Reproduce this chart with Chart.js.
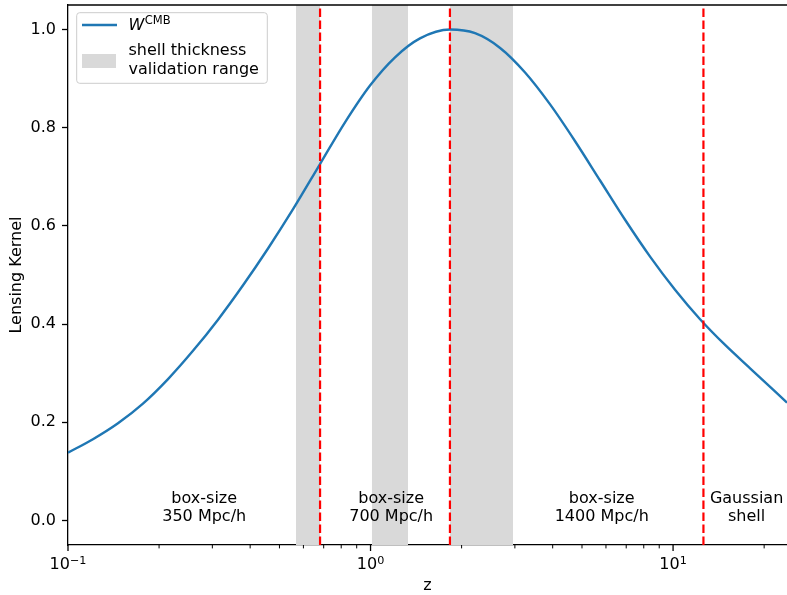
<!DOCTYPE html>
<html>
<head>
<meta charset="utf-8">
<script src="https://cdn.jsdelivr.net/npm/chart.js@4"></script>
<style>
  body { margin: 0; background: #fff; }
  canvas { display: block; }
</style>
</head>
<body>
<canvas id="kernel" width="787" height="595"></canvas>
<script>
// redshift samples and the normalised CMB lensing kernel
const zSamples = [0.1, 0.1209, 0.1463, 0.1769, 0.2141, 0.2589, 0.3132, 0.3789, 0.4583, 0.5544, 0.6808, 0.8234, 0.9962, 1.205, 1.457, 1.832, 2.215, 2.681, 3.242, 3.922, 4.744, 5.738, 6.939, 8.394, 10.15, 12.28, 14.86, 17.97, 23.8];
const kernelValues = [0.138, 0.1655, 0.198, 0.238, 0.288, 0.3455, 0.409, 0.479, 0.554, 0.634, 0.726, 0.811, 0.886, 0.9435, 0.982, 1.0, 0.9925, 0.9625, 0.9125, 0.8475, 0.7725, 0.6925, 0.6125, 0.5375, 0.470, 0.410, 0.3575, 0.310, 0.240];

// shell thickness validation ranges in z
const bandStart = [0.567, 1.01, 1.83];
const bandEnd = [0.681, 1.33, 2.96];

// where the simulation box size changes
const boxEdges = [0.681, 1.83, 12.6];
const regionZ = [0.282, 1.17, 5.81, 17.5];
const regionText = [['box-size', '350 Mpc/h'], ['box-size', '700 Mpc/h'], ['box-size', '1400 Mpc/h'], ['Gaussian', 'shell']];
const regionTextY = 0.035;

const yTicks = [0, 0.2, 0.4, 0.6, 0.8, 1.0];
const xMajor = [0.1, 1, 10];
const xMajorExp = ['\u22121', '0', '1'];
const zMin = 0.1, zMax = 23.8;
const yMin = -0.05, yMax = 1.05;

// 1..9 per decade, for the minor tick marks
const xTickValues = [];
xMajor.forEach(d => {
  for (let k = 1; k <= 9; k++) {
    if (k * d <= zMax) xTickValues.push(k * d);
  }
});

const FONT = "'DejaVu Sans', sans-serif";
Chart.defaults.font.family = FONT;
Chart.defaults.font.size = 16;
Chart.defaults.color = '#000';

const bandSets = bandStart.map((s, i) => ({
  label: 'band' + i,
  data: [{ x: s, y: yMax }, { x: bandEnd[i], y: yMax }],
  fill: 'start',
  backgroundColor: '#d9d9d9',
  borderWidth: 0,
  pointRadius: 0,
  order: 3
}));

const edgeSets = boxEdges.map((z, i) => ({
  label: 'edge' + i,
  data: [{ x: z, y: yMin }, { x: z, y: yMax }],
  borderColor: '#ff0000',
  borderWidth: 2.2,
  borderDash: [8.5, 3.5],
  pointRadius: 0,
  fill: false,
  order: 1
}));

const decorations = {
  id: 'decorations',
  afterDatasetsDraw(chart) {
    const { ctx, chartArea: a, scales: { x, y } } = chart;
    ctx.save();
    ctx.strokeStyle = '#000';

    // top spine
    ctx.lineWidth = 1.3;
    ctx.beginPath();
    ctx.moveTo(a.left, a.top);
    ctx.lineTo(a.right, a.top);
    ctx.stroke();

    // log ticks: long at decades, short in between
    x.ticks.forEach(t => {
      const major = xMajor.includes(t.value);
      const px = x.getPixelForValue(t.value);
      ctx.lineWidth = major ? 1.3 : 1;
      ctx.beginPath();
      ctx.moveTo(px, a.bottom);
      ctx.lineTo(px, a.bottom + (major ? 6 : 3.4));
      ctx.stroke();
    });

    // decade labels as 10 with a raised exponent
    ctx.fillStyle = '#000';
    ctx.textBaseline = 'alphabetic';
    ctx.textAlign = 'left';
    xMajor.forEach((v, i) => {
      const px = x.getPixelForValue(v);
      ctx.font = '16px ' + FONT;
      const wb = ctx.measureText('10').width;
      ctx.font = '11.2px ' + FONT;
      const we = ctx.measureText(xMajorExp[i]).width;
      const left = px - (wb + we) / 2;
      const base = a.bottom + 24.3;
      ctx.font = '16px ' + FONT;
      ctx.fillText('10', left, base);
      ctx.font = '11.2px ' + FONT;
      ctx.fillText(xMajorExp[i], left + wb, base - 5.5);
    });

    // region labels
    ctx.font = '16px ' + FONT;
    ctx.textAlign = 'center';
    regionZ.forEach((z, i) => {
      const px = x.getPixelForValue(z);
      const py = y.getPixelForValue(regionTextY);
      ctx.fillText(regionText[i][0], px, py);
      ctx.fillText(regionText[i][1], px, py + 17.5);
    });

    // legend
    const lx = a.left + 8.7, ly = a.top + 7.7;
    ctx.fillStyle = 'rgba(255,255,255,0.8)';
    ctx.strokeStyle = '#cccccc';
    ctx.lineWidth = 1;
    ctx.beginPath();
    ctx.roundRect(lx, ly, 190.6, 70.6, 3);
    ctx.fill();
    ctx.stroke();

    ctx.strokeStyle = '#1f77b4';
    ctx.lineWidth = 2.4;
    ctx.beginPath();
    ctx.moveTo(a.left + 14, a.top + 20);
    ctx.lineTo(a.left + 49, a.top + 20);
    ctx.stroke();

    ctx.fillStyle = '#d9d9d9';
    ctx.fillRect(a.left + 14, a.top + 49, 34, 14);

    ctx.fillStyle = '#000';
    ctx.textAlign = 'left';
    const tx = a.left + 60.5;
    ctx.font = 'italic 16px ' + FONT;
    ctx.fillText('W', tx, a.top + 25);
    const wW = ctx.measureText('W').width;
    ctx.font = '11.5px ' + FONT;
    ctx.fillText('CMB', tx + wW + 0.5, a.top + 19);
    ctx.font = '16px ' + FONT;
    ctx.fillText('shell thickness', tx, a.top + 50);
    ctx.fillText('validation range', tx, a.top + 68.5);

    ctx.restore();
  }
};

new Chart(document.getElementById('kernel'), {
  type: 'line',
  data: {
    datasets: [
      ...bandSets,
      {
        label: 'W CMB',
        data: zSamples.map((z, i) => ({ x: z, y: kernelValues[i] })),
        borderColor: '#1f77b4',
        borderWidth: 2.4,
        pointRadius: 0,
        cubicInterpolationMode: 'monotone',
        fill: false,
        order: 2
      },
      ...edgeSets
    ]
  },
  options: {
    responsive: false,
    devicePixelRatio: 1,
    animation: false,
    layout: { padding: { top: 5, right: 0, bottom: 0, left: 0 } },
    plugins: {
      legend: { display: false },
      tooltip: { enabled: false }
    },
    scales: {
      x: {
        type: 'logarithmic',
        min: zMin,
        max: zMax,
        afterBuildTicks: s => { s.ticks = xTickValues.map(v => ({ value: v })); },
        afterFit: s => { s.height = 50; s.paddingLeft = 0; s.paddingRight = 0; },
        ticks: { autoSkip: false, maxRotation: 0, callback: () => '' },
        grid: { drawOnChartArea: false, drawTicks: true, tickLength: 6, tickColor: 'rgba(0,0,0,0)' },
        border: { color: '#000', width: 1.3 },
        title: { display: true, text: 'z', padding: { top: 0, bottom: 0 } }
      },
      y: {
        type: 'linear',
        min: yMin,
        max: yMax,
        afterBuildTicks: s => { s.ticks = yTicks.map(v => ({ value: v })); },
        afterFit: s => { s.width = 68; s.paddingTop = 0; s.paddingBottom = 0; },
        ticks: { padding: 6, callback: v => v.toFixed(1) },
        grid: { drawOnChartArea: false, tickLength: 6, tickColor: '#000', tickWidth: 1.3 },
        border: { color: '#000', width: 1.3 },
        title: { display: true, text: 'Lensing Kernel', padding: { top: 7, bottom: 0 } }
      }
    }
  },
  plugins: [decorations]
});
</script>
</body>
</html>
